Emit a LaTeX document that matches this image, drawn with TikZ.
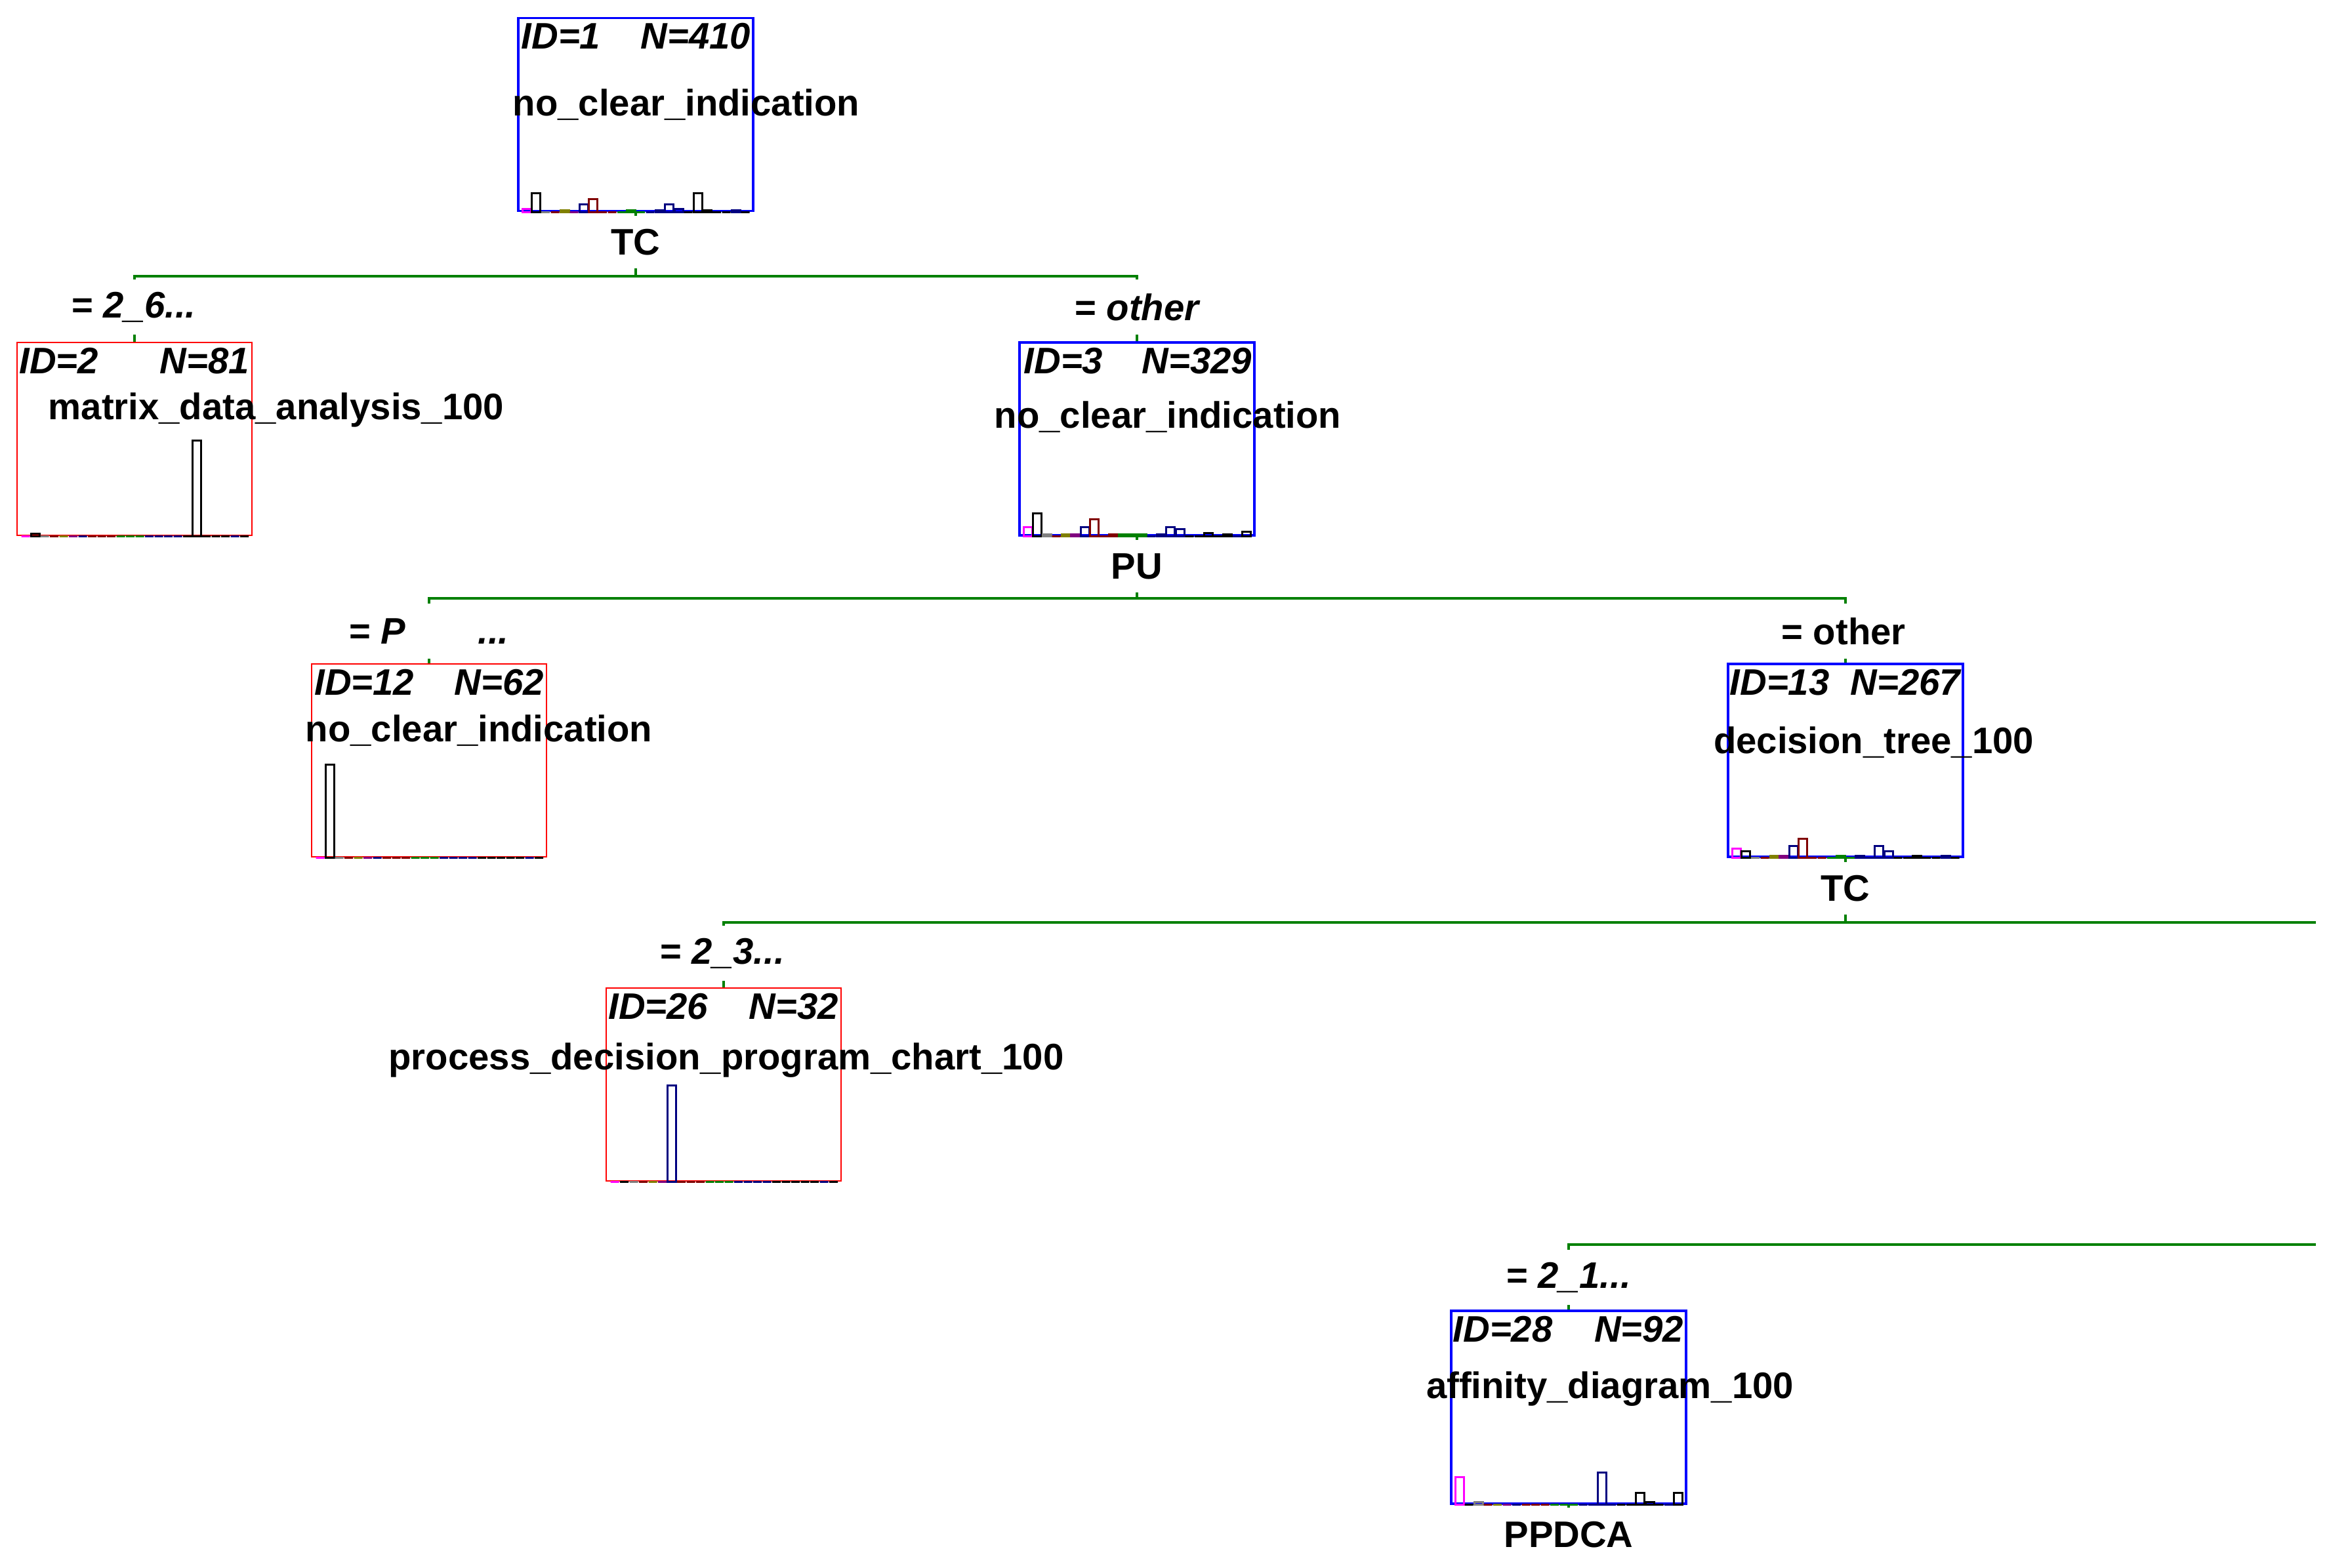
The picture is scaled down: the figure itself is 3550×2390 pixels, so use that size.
\documentclass[tikz,border=0pt]{standalone}
\usepackage{fontspec}
\setmainfont{Liberation Sans}
\definecolor{hmagenta}{RGB}{255,0,255}
\definecolor{hgray}{RGB}{128,128,128}
\definecolor{hmaroon}{RGB}{128,0,0}
\definecolor{holive}{RGB}{128,128,0}
\definecolor{hpurple}{RGB}{128,0,128}
\definecolor{hnavy}{RGB}{0,0,128}
\definecolor{hgreen}{RGB}{0,128,0}
\definecolor{hblack}{RGB}{0,0,0}
\def\classcolors{hmagenta,hblack,hgray,hmaroon,holive,hpurple,hnavy,hmaroon,hmaroon,hmaroon,hgreen,hgreen,hgreen,hnavy,hnavy,hnavy,hnavy,hblack,hblack,hblack,hblack,hblack,hnavy,hblack}
% class histogram along the bottom of a box
\newcommand{\drawhist}[2]{%
        \foreach \col [count=\k from 0] in \classcolors {
                \pgfmathsetmacro\barh{{#2}[\k]}
                \draw[\col, line width=0.85pt] ([shift={({8+\k*14.5},0)}]#1.south west) rectangle ++(13,-\barh);
        }}
\begin{document}
\begin{tikzpicture}[x=0.01cm, y=-0.01cm,
        every node/.style={font=\fontsize{16}{19}\selectfont\bfseries},
        splitbox/.style={draw=blue, line width=1pt, minimum width=3.58cm, minimum height=2.94cm, inner sep=0pt},
        termbox/.style={splitbox, draw=red, line width=0.7pt},
        branch/.style={draw=hgreen, line width=0.9pt},
        cond/.style={fill=white, inner sep=1pt, minimum height=0.84cm},
        var/.style={fill=white, inner sep=1pt, minimum height=0.8cm},
        idtxt/.style={anchor=north west, inner sep=0pt},
        ntxt/.style={anchor=north east, inner sep=0pt}]
        \useasboundingbox (0,0) rectangle (3550,2390);
        \node[splitbox] (n1) at (969,174.5) {};
        \node[termbox] (n2) at (205,669) {};
        \node[splitbox] (n3) at (1733,669) {};
        \node[termbox] (n12) at (654,1159) {};
        \node[splitbox] (n13) at (2813,1159) {};
        \node[termbox] (n26) at (1103,1653) {};
        \node[splitbox] (n28) at (2391,2145) {};
        % split lines
        \coordinate (s1) at (969,421);
        \coordinate (s3) at (1733,912);
        \coordinate (s13) at (2813,1406);
        \coordinate (e13) at (3530,1406);
        \coordinate (e28) at (3530,1897);
        \draw[branch] (n1.south) -- (s1);
        \draw[branch] (n2.north) |- (s1) -| (n3.north);
        \draw[branch] (n3.south) -- (s3);
        \draw[branch] (n12.north) |- (s3) -| (n13.north);
        \draw[branch] (n13.south) -- (s13);
        \draw[branch] (n26.north) |- (e13);
        \draw[branch] (n28.north) |- (e28);
        \node[var] (v1) at (969,369) {TC};
        \node[var] (v3) at (1733,863) {PU};
        \node[var] (v13) at (2813,1354) {TC};
        \node[var] (v28) at (2391,2339) {PPDCA};
        \draw[branch] (n28.south) -- (v28.north);
        \node[cond] (c2) at (204,468) {= \textit{2\_6...}};
        \node[cond] (c3) at (1734,468) {= \textit{other}};
        \node[cond] (c12) at (654,962) {= \textit{P}\hspace{1.1cm}\textit{...}};
        \node[cond] (c13) at (2810,962) {= other};
        \node[cond] (c26) at (1101,1453) {= \textit{2\_3...}};
        \node[cond] (c28) at (2391,1947) {= \textit{2\_1...}};
        % box texts
        \node[idtxt] at ([shift={(6,9)}]n1.north west) {\textit{ID=1}};
        \node[ntxt] at ([shift={(-5,9)}]n1.north east) {\textit{N=410}};
        \node (k1) at (1046,160) {no\_clear\_indication};
        \node[idtxt] at ([shift={(4,9)}]n2.north west) {\textit{ID=2}};
        \node[ntxt] at ([shift={(-5,9)}]n2.north east) {\textit{N=81}};
        \node (k2) at (421,625) {matrix\_data\_analysis\_100};
        \node[idtxt] at ([shift={(8,9)}]n3.north west) {\textit{ID=3}};
        \node[ntxt] at ([shift={(-5,9)}]n3.north east) {\textit{N=329}};
        \node (k3) at (1780,636) {no\_clear\_indication};
        \node[idtxt] at ([shift={(5,9)}]n12.north west) {\textit{ID=12}};
        \node[ntxt] at ([shift={(-5,9)}]n12.north east) {\textit{N=62}};
        \node (k12) at (730,1114) {no\_clear\_indication};
        \node[idtxt] at ([shift={(4,9)}]n13.north west) {\textit{ID=13}};
        \node[ntxt] at ([shift={(-3,9)}]n13.north east) {\textit{N=267}};
        \node (k13) at (2856,1132) {decision\_tree\_100};
        \node[idtxt] at ([shift={(4,9)}]n26.north west) {\textit{ID=26}};
        \node[ntxt] at ([shift={(-5,9)}]n26.north east) {\textit{N=32}};
        \node (k26) at (1107,1616) {process\_decision\_program\_chart\_100};
        \node[idtxt] at ([shift={(4,9)}]n28.north west) {\textit{ID=28}};
        \node[ntxt] at ([shift={(-5,9)}]n28.north east) {\textit{N=92}};
        \node (k28) at (2454,2117) {affinity\_diagram\_100};
        % histograms
        \drawhist{n1}{5,29,0,0,3,0,12,20,0,0,0,3,0,0,3,12,5,0,29,3,0,0,3,0}
        \drawhist{n2}{0,4,0,0,0,0,0,0,0,0,0,0,0,0,0,0,0,0,146,0,0,0,0,0}
        \drawhist{n3}{14,35,3,0,3,3,14,26,0,3,3,3,3,0,3,14,11,0,0,5,0,3,0,7}
        \drawhist{n12}{0,142,0,0,0,0,0,0,0,0,0,0,0,0,0,0,0,0,0,0,0,0,0,0}
        \drawhist{n13}{14,10,0,0,3,3,18,29,0,0,0,3,0,3,0,18,10,0,0,3,0,0,3,0}
        \drawhist{n26}{0,0,0,0,0,0,147,0,0,0,0,0,0,0,0,0,0,0,0,0,0,0,0,0}
        \drawhist{n28}{42,0,4,0,0,0,0,0,0,0,0,0,0,0,0,49,0,0,0,18,4,0,0,18}
\end{tikzpicture}
\end{document}
